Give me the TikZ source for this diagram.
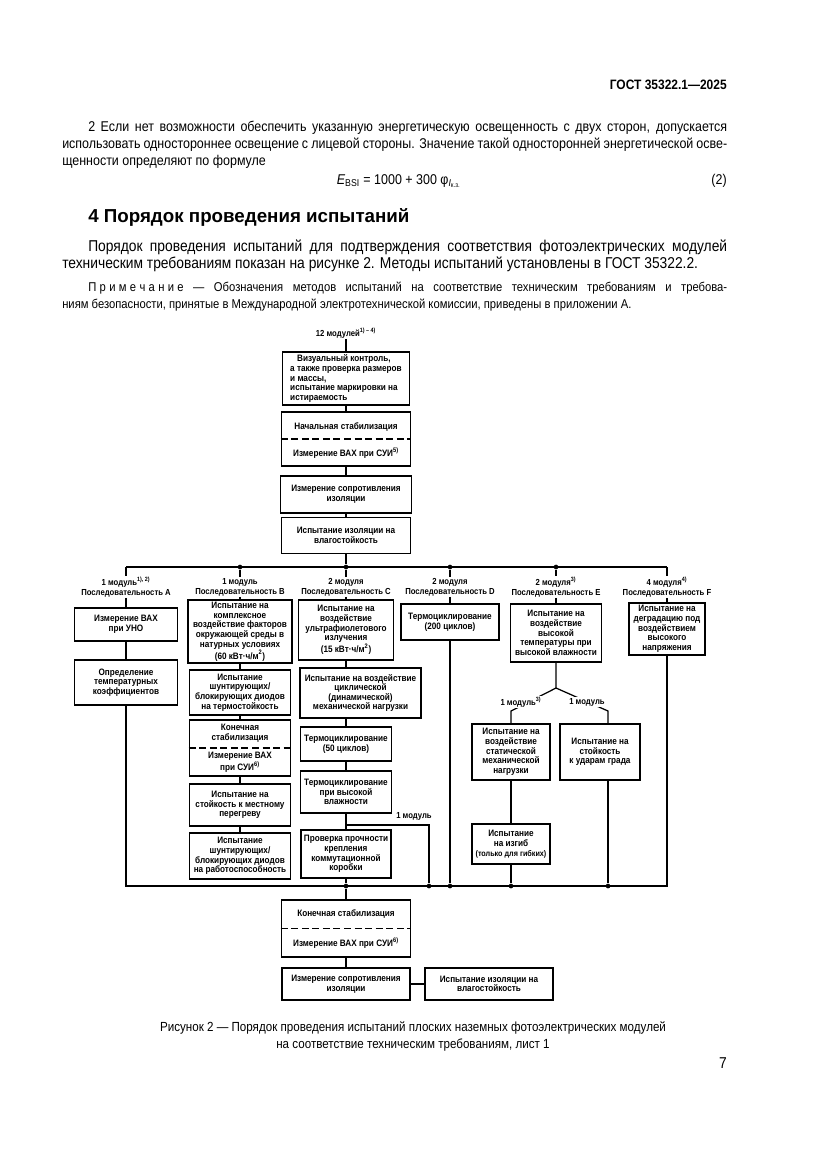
\documentclass[tikz,border=0pt]{standalone}
\usepackage{fontspec}
\setmainfont{Liberation Sans}[FakeStretch=0.88]
\newfontfamily\wideface{Liberation Sans}
\usetikzlibrary{positioning}

\tikzset{
    fctext/.style={font=\fontsize{6.3}{7.2}\selectfont\bfseries},
    blk/.style={draw, line width=1.2pt, align=center, inner sep=0pt,
        font=\fontsize{6.7}{6.95}\selectfont\bfseries},
    sz/.style 2 args={minimum width=#1*0.72pt, minimum height=#2*0.72pt},
    txt/.style={align=center, inner sep=0.5pt, fctext},
    btxt/.style={txt, font=\fontsize{6.7}{7.2}\selectfont\bfseries},
    lbl/.style={txt, fill=white},
    lnk/.style={line width=0.9pt},
    dot/.style={circle, fill, inner sep=0pt, minimum size=3.4pt},
    sep/.style={line width=1.1pt, dash pattern=on 5pt off 2.6pt},
    body/.style={anchor=base west, inner sep=0pt, font=\fontsize{11.3}{13}\selectfont},
    remark/.style={anchor=base west, inner sep=0pt, font=\fontsize{10.2}{12}\selectfont},
    small/.style={anchor=base west, inner sep=0pt, font=\fontsize{9.2}{11}\selectfont},
}

\begin{document}
\begin{tikzpicture}[x=0.72pt,y=-0.72pt]
    \fill[white] (0,0) rectangle (827,1169);
    \useasboundingbox (0,0) rectangle (827,1169);

    % page text
    \node[body, anchor=base east, font=\fontsize{9.8}{12}\selectfont\bfseries] (hd) at (727,89.5) {ГОСТ 35322.1—2025};
    \node[remark] (t1) at (88,131.5) {\makebox[460pt][s]{2 Если нет возможности обеспечить указанную энергетическую освещенность с двух сторон, допускается}};
    \node[remark] (t2) at (62,148.5) {\makebox[478.8pt][s]{использовать одностороннее освещение с лицевой стороны. Значение такой односторонней энергетической осве-}};
    \node[remark] (t3) at (62,165.5) {щенности определяют по формуле};
    \node[remark, anchor=base] (frm) at (399,184) {\textit{E}\textsubscript{BSI} = 1000 + 300 φ\textsubscript{\textit{I}\textsubscript{к.з.}}};
    \node[remark, anchor=base east] (frmno) at (727,184) {(2)};
    \node[body, font=\wideface\fontsize{13.5}{16}\selectfont\bfseries] (sec) at (88,222.5) {4 Порядок проведения испытаний};
    \node[body] (t4) at (88,251.5) {\makebox[460pt][s]{Порядок проведения испытаний для подтверждения соответствия фотоэлектрических модулей}};
    \node[body] (t5) at (62,268.5) {техническим требованиям показан на рисунке 2. Методы испытаний установлены в ГОСТ 35322.2.};
    \node[small] (t6) at (88,291) {\makebox[460pt][s]{\mbox{П\kern2.4pt р\kern2.4pt и\kern2.4pt м\kern2.4pt е\kern2.4pt ч\kern2.4pt а\kern2.4pt н\kern2.4pt и\kern2.4pt е} — Обозначения методов испытаний на соответствие техническим требованиям и требова-}};
    \node[small] (t7) at (62,308) {ниям безопасности, принятые в Международной электротехнической комиссии, приведены в приложении А.};

    % common part
    \node[txt] (n12) at (346,333) {12 модулей\textsuperscript{1) – 4)}};
    \node[blk, sz={127}{53}, align=left] (vis) at (346,378.5) {\hspace*{5pt}Визуальный контроль,\\а также проверка размеров\\и массы,\\испытание маркировки на\\истираемость};
    \node[blk, sz={129}{54}] (stab) at (346,439) {};
    \draw[sep] (stab.west) -- (stab.east);
    \node[btxt] (stabA) at (346,427) {Начальная стабилизация};
    \node[btxt] (stabB) at (346,453) {Измерение ВАХ при СУИ\textsuperscript{5)}};
    \node[blk, sz={131}{37}] (ins) at (346,494.5) {Измерение сопротивления\\изоляции};
    \node[blk, sz={129}{36}] (wet) at (346,535.5) {Испытание изоляции на\\влагостойкость};
    \draw[lnk] (n12) -- (vis);
    \draw[lnk] (vis) -- (stab);
    \draw[lnk] (stab) -- (ins);
    \draw[lnk] (ins) -- (wet);

    % upper bus
    \coordinate (tA) at (126,567);
    \coordinate (tF) at (667,567);
    \draw[lnk] (tA) -- (tF);
    \foreach \x/\n in {240/tB,346/tC,450/tD,556/tE}
        \node[dot] (\n) at (\x,567) {};
    \draw[lnk] (wet) -- (tC);

    \node[txt] (lA) at (126,587) {1 модуль\textsuperscript{1), 2)}\\Последовательность A};
    \node[txt] (lB) at (240,587) {1 модуль\\Последовательность B};
    \node[txt] (lC) at (346,587) {2 модуля\\Последовательность C};
    \node[txt] (lD) at (450,587) {2 модуля\\Последовательность D};
    \node[txt] (lE) at (556,587) {2 модуля\textsuperscript{3)}\\Последовательность E};
    \node[txt] (lF) at (667,587) {4 модуля\textsuperscript{4)}\\Последовательность F};

    % sequence A
    \node[blk, sz={103}{33}] (A1) at (126,624.5) {Измерение ВАХ\\при УНО};
    \node[blk, sz={103}{45}] (A2) at (126,682.5) {Определение\\температурных\\коэффициентов};

    % sequence B
    \node[blk, sz={104}{63}] (B1) at (240,631.5) {Испытание на\\комплексное\\воздействие факторов\\окружающей среды в\\натурных условиях\\(60 кВт·ч/м\textsuperscript{2})};
    \node[blk, sz={101}{45}] (B2) at (240,692.5) {Испытание\\шунтирующих/\\блокирующих диодов\\на термостойкость};
    \node[blk, sz={101}{56}] (B3) at (240,748) {};
    \draw[sep] (B3.west) -- (B3.east);
    \node[btxt] (B3a) at (240,733.5) {Конечная\\стабилизация};
    \node[btxt] (B3b) at (240,762) {Измерение ВАХ\\при СУИ\textsuperscript{6)}};
    \node[blk, sz={101}{42}] (B4) at (240,805) {Испытание на\\стойкость к местному\\перегреву};
    \node[blk, sz={101}{46}] (B5) at (240,856) {Испытание\\шунтирующих/\\блокирующих диодов\\на работоспособность};

    % sequence C
    \node[blk, sz={95}{60}] (C1) at (346,630) {Испытание на\\воздействие\\ультрафиолетового\\излучения\\(15 кВт·ч/м\textsuperscript{2})};
    \node[blk, sz={121}{50}] (C2) at (360.5,693) {Испытание на воздействие\\циклической\\(динамической)\\механической нагрузки};
    \node[blk, sz={91}{34}] (C3) at (346,744) {Термоциклирование\\(50 циклов)};
    \node[blk, sz={91}{42}] (C4) at (346,792) {Термоциклирование\\при высокой\\влажности};
    \node[blk, sz={90}{48}] (C5) at (346,854) {Проверка прочности\\крепления\\коммутационной\\коробки};

    % sequence D
    \node[blk, sz={98}{36}] (D1) at (450,622) {Термоциклирование\\(200 циклов)};

    % sequence E
    \node[blk, sz={91}{58}] (E1) at (556,633) {Испытание на\\воздействие\\высокой\\температуры при\\высокой влажности};
    \node[blk, sz={78}{56}] (E2) at (511,752) {Испытание на\\воздействие\\статической\\механической\\нагрузки};
    \node[blk, sz={80}{56}] (E3) at (600,752) {Испытание на\\стойкость\\к ударам града};
    \node[blk, sz={78}{40}] (E4) at (511,844) {Испытание\\на изгиб\\{\fontsize{5.9}{7.2}\selectfont(только для гибких)}};

    % sequence F
    \node[blk, sz={76}{52}] (F1) at (667,629) {Испытание на\\деградацию под\\воздействием\\высокого\\напряжения};

    % lower bus
    \coordinate (bA) at (126,886);
    \coordinate (bF) at (667,886);
    \foreach \x/\n in {346/bC,429/bM,450/bD,511/bE,608/bG}
        \node[dot] (\n) at (\x,886) {};

    \draw[lnk] (tA) -- (lA);
    \draw[lnk] (lA) -- (A1);
    \draw[lnk] (A1) -- (A2);
    \draw[lnk] (A2) -- (bA) -- (bF) -- (F1);

    \draw[lnk] (tB) -- (lB);
    \draw[lnk] (lB) -- (B1);
    \draw[lnk] (B1) -- (B2);
    \draw[lnk] (B2) -- (B3);
    \draw[lnk] (B3) -- (B4);
    \draw[lnk] (B4) -- (B5);

    \draw[lnk] (tC) -- (lC);
    \draw[lnk] (lC) -- (C1);
    \draw[lnk] (C1.south) -- (C1.south |- C2.north);
    \draw[lnk] (C3.north |- C2.south) -- (C3.north);
    \draw[lnk] (C3) -- (C4);
    \draw[lnk] (C4) -- (C5);
    \draw[lnk] (C5) -- (bC);
    \coordinate (brL) at (346,825);
    \coordinate (brR) at (429,825);
    \draw[lnk] (brL) -- (brR) -- (bM);
    \node[txt] (lM) at (414,816) {1 модуль};

    \draw[lnk] (tD) -- (lD);
    \draw[lnk] (lD) -- (D1);
    \draw[lnk] (D1) -- (bD);

    \draw[lnk] (tE) -- (lE);
    \draw[lnk] (lE) -- (E1);
    \coordinate (apx) at (556,688);
    \coordinate (eL) at (511,711);
    \coordinate (eR) at (608,711);
    \draw[lnk] (E1) -- (apx) -- (eL) -- (E2);
    \draw[lnk] (apx) -- (eR) -- (eR |- E3.north);
    \node[lbl] (lE2) at (521,702) {1 модуль\textsuperscript{3)}};
    \node[lbl] (lE3) at (587,702) {1 модуль};
    \draw[lnk] (E2) -- (E4);
    \draw[lnk] (E4) -- (bE);
    \draw[lnk] (eR |- E3.south) -- (bG);

    \draw[lnk] (tF) -- (lF);
    \draw[lnk] (lF) -- (F1);

    % final part
    \node[blk, sz={129}{57}] (fin) at (346,928.5) {};
    \draw[sep] (fin.west) -- (fin.east);
    \node[btxt] (finA) at (346,914) {Конечная стабилизация};
    \node[btxt] (finB) at (346,943) {Измерение ВАХ при СУИ\textsuperscript{6)}};
    \node[blk, sz={128}{32}] (insF) at (346,984) {Измерение сопротивления\\изоляции};
    \node[blk, sz={128}{32}] (wetF) at (489,984) {Испытание изоляции на\\влагостойкость};
    \draw[lnk] (bC) -- (fin);
    \draw[lnk] (fin) -- (insF);
    \draw[lnk] (insF) -- (wetF);

    % caption
    \node[small, anchor=base, font=\fontsize{9.5}{11}\selectfont] (cap1) at (413,1031) {Рисунок 2 — Порядок проведения испытаний плоских наземных фотоэлектрических модулей};
    \node[small, anchor=base, font=\fontsize{9.5}{11}\selectfont] (cap2) at (413,1048) {на соответствие техническим требованиям, лист 1};
    \node[body, anchor=base east] (pg) at (727,1068) {7};
\end{tikzpicture}
\end{document}
